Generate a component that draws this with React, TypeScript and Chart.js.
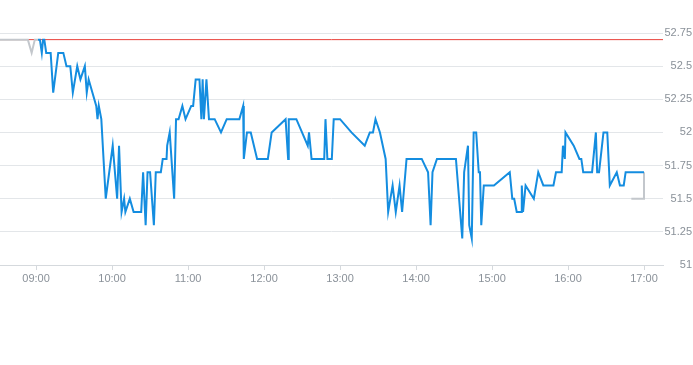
import React, { useEffect, useRef } from "react";
import { Chart, registerables } from "chart.js";

Chart.register(...registerables);

// Intraday price (blue)
const times: string[] = [
  "09:01:30", "09:03:00", "09:04:30", "09:05:30", "09:06:30", "09:08:00", "09:11:30", "09:13:30",
  "09:17:30", "09:21:30", "09:24:00", "09:27:00", "09:29:00", "09:32:30", "09:35:00", "09:38:30",
  "09:40:00", "09:41:30", "09:44:30", "09:47:30", "09:48:30", "09:49:30", "09:51:30", "09:55:00",
  "10:00:30", "10:04:00", "10:05:30", "10:07:30", "10:09:30", "10:10:30", "10:14:00", "10:17:00",
  "10:23:00", "10:24:30", "10:26:30", "10:28:00", "10:30:00", "10:33:00", "10:34:30", "10:38:30",
  "10:40:00", "10:43:00", "10:43:30", "10:45:30", "10:49:00", "10:50:30", "10:52:30", "10:55:30",
  "10:58:00", "11:02:30", "11:04:00", "11:06:00", "11:09:00", "11:10:30", "11:11:30", "11:12:30",
  "11:14:30", "11:16:30", "11:21:00", "11:26:00", "11:30:30", "11:40:30", "11:43:30", "11:44:00",
  "11:46:30", "11:49:30", "11:54:30", "12:03:00", "12:06:00", "12:17:00", "12:19:00", "12:19:30",
  "12:25:30", "12:34:30", "12:35:30", "12:36:00", "12:37:30", "12:47:30", "12:48:30", "12:50:00",
  "12:53:30", "12:55:00", "13:00:00", "13:09:00", "13:19:30", "13:23:30", "13:26:00", "13:28:00",
  "13:31:30", "13:36:00", "13:38:00", "13:41:30", "13:44:00", "13:47:00", "13:49:00", "13:52:30",
  "14:04:30", "14:09:30", "14:11:30", "14:13:00", "14:16:30", "14:31:30", "14:36:30", "14:38:00",
  "14:41:00", "14:42:00", "14:44:00", "14:45:30", "14:47:30", "14:49:30", "14:50:30", "14:51:30",
  "14:53:30", "15:01:30", "15:14:00", "15:16:00", "15:17:30", "15:19:30", "15:23:00", "15:23:30",
  "15:24:30", "15:26:30", "15:33:00", "15:36:30", "15:40:30", "15:48:30", "15:50:30", "15:55:00",
  "15:56:00", "15:57:30", "15:58:00", "16:04:30", "16:09:00", "16:10:30", "16:12:00", "16:19:00",
  "16:22:00", "16:23:00", "16:24:30", "16:28:00", "16:31:00", "16:33:00", "16:38:30", "16:41:00",
  "16:44:00", "16:45:30", "17:00:00",
];
const prices: number[] = [
  52.7, 52.7, 52.6, 52.7, 52.7, 52.6, 52.6, 52.3,
  52.6, 52.6, 52.5, 52.5, 52.3, 52.5, 52.4, 52.5,
  52.3, 52.4, 52.3, 52.2, 52.1, 52.2, 52.1, 51.5,
  51.9, 51.5, 51.9, 51.4, 51.5, 51.4, 51.5, 51.4,
  51.4, 51.7, 51.3, 51.7, 51.7, 51.3, 51.7, 51.7,
  51.8, 51.8, 51.9, 52.0, 51.5, 52.1, 52.1, 52.2,
  52.1, 52.2, 52.2, 52.4, 52.4, 52.1, 52.4, 52.1,
  52.4, 52.1, 52.1, 52.0, 52.1, 52.1, 52.2, 51.8,
  52.0, 52.0, 51.8, 51.8, 52.0, 52.1, 51.8, 52.1,
  52.1, 51.9, 52.0, 52.0, 51.8, 51.8, 52.1, 51.8,
  51.8, 52.1, 52.1, 52.0, 51.9, 52.0, 52.0, 52.1,
  52.0, 51.8, 51.4, 51.6, 51.4, 51.6, 51.4, 51.8,
  51.8, 51.7, 51.3, 51.7, 51.8, 51.8, 51.2, 51.7,
  51.9, 51.3, 51.2, 52.0, 52.0, 51.7, 51.7, 51.3,
  51.6, 51.6, 51.7, 51.5, 51.5, 51.4, 51.4, 51.6,
  51.4, 51.6, 51.5, 51.7, 51.6, 51.6, 51.7, 51.7,
  51.9, 51.8, 52.0, 51.9, 51.8, 51.8, 51.7, 51.7,
  52.0, 51.7, 51.7, 52.0, 52.0, 51.6, 51.7, 51.6,
  51.6, 51.7, 51.7,
];

// Pre-market (grey)
const preTimes: string[] = ["08:30:00", "08:53:30", "08:56:30", "08:59:00", "09:01:30"];
const prePrices: number[] = [52.7, 52.7, 52.6, 52.7, 52.7];

// After-hours (grey)
const postTimes: string[] = ["17:00:00", "17:00:00", "16:50:00"];
const postPrices: number[] = [51.7, 51.5, 51.5];

// Reference (previous close)
const refPrice = 52.7;

// Axis
const xTickLabels: string[] = ["09:00", "10:00", "11:00", "12:00", "13:00", "14:00", "15:00", "16:00", "17:00"];
const xMinTime = "08:31:30";
const xMaxTime = "17:15:00";
const yMin = 51;
const yMax = 52.75;
const yStep = 0.25;

const toMin = (t: string) => {
  const [h, m, s] = t.split(":").map(Number);
  return h * 60 + m + (s || 0) / 60;
};
const fmt = (v: number) => {
  const h = Math.floor(v / 60);
  const m = Math.round(v - h * 60);
  return String(h).padStart(2, "0") + ":" + String(m).padStart(2, "0");
};

export default function App() {
  const ref = useRef<HTMLCanvasElement | null>(null);
  useEffect(() => {
    if (!ref.current) return;
    const font = { family: "'Liberation Sans', Arial, sans-serif", size: 11 };
    const xMin = toMin(xMinTime);
    const xMax = toMin(xMaxTime);
    const chart = new Chart(ref.current, {
      type: "line",
      data: {
        datasets: [
          {
            data: preTimes.map((t, i) => ({ x: toMin(t), y: prePrices[i] })),
            borderColor: "#c3c7cc",
            borderWidth: 2,
            pointRadius: 0,
            order: 2,
          },
          {
            data: times.map((t, i) => ({ x: toMin(t), y: prices[i] })),
            borderColor: "#148de0",
            borderWidth: 2,
            pointRadius: 0,
            order: 1,
          },
          {
            data: postTimes.map((t, i) => ({ x: toMin(t), y: postPrices[i] })),
            borderColor: "#c3c7cc",
            borderWidth: 2,
            pointRadius: 0,
            order: 2,
          },
          {
            data: [
              { x: xMin, y: refPrice },
              { x: xMax, y: refPrice },
            ],
            borderColor: "#e8403a",
            borderWidth: 1,
            pointRadius: 0,
            order: 3,
          },
        ],
      },
      options: {
        responsive: false,
        animation: false,
        devicePixelRatio: 1,
        parsing: false,
        normalized: true,
        layout: { padding: { top: 33, left: 0, right: 1, bottom: 70 } },
        plugins: { legend: { display: false }, tooltip: { enabled: false } },
        elements: { line: { tension: 0 } },
        scales: {
          x: {
            type: "linear",
            min: xMin,
            max: xMax,
            afterBuildTicks: (axis: any) => {
              axis.ticks = xTickLabels.map((l) => ({ value: toMin(l) }));
            },
            afterFit: (s: any) => {
              s.height = 30;
            },
            grid: {
              drawOnChartArea: false,
              drawTicks: true,
              tickLength: 5,
              color: "#d5d9dd",
            },
            border: { color: "#d5d9dd" },
            ticks: {
              font,
              color: "#8a9199",
              padding: 2,
              maxRotation: 0,
              autoSkip: false,
              callback: (v: any) => fmt(Number(v)),
            },
          },
          y: {
            position: "right",
            min: yMin,
            max: yMax,
            afterFit: (s: any) => {
              s.width = 29;
            },
            grid: { color: "#e3e6e9", drawTicks: false },
            border: { display: false },
            ticks: {
              stepSize: yStep,
              font,
              color: "#8a9199",
              crossAlign: "far",
              padding: 4,
              callback: (v: any) => String(Math.round(Number(v) * 100) / 100),
            },
          },
        },
      },
    } as any);
    return () => chart.destroy();
  }, []);
  return (
    <div style={{ position: "fixed", left: 0, top: 0, width: 693, height: 365, background: "#fff" }}>
      <canvas ref={ref} width={693} height={365} style={{ display: "block" }} />
    </div>
  );
}
